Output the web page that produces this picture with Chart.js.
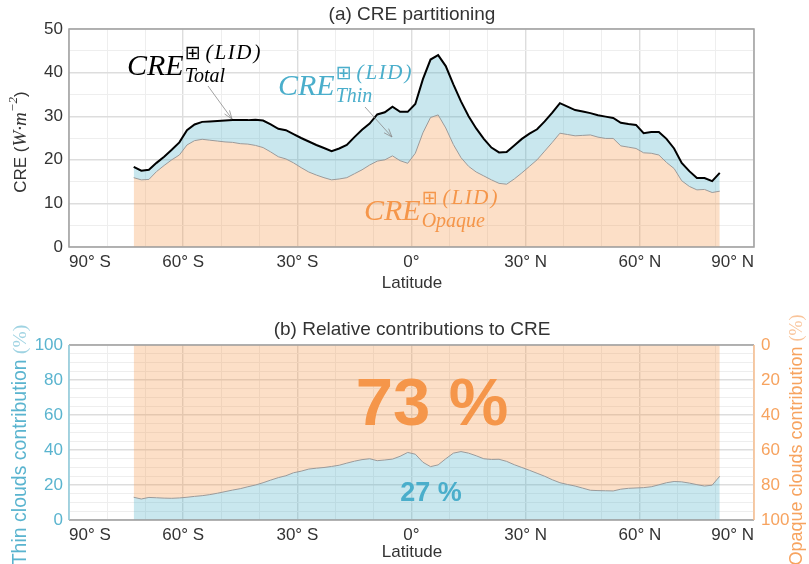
<!DOCTYPE html>
<html>
<head>
<meta charset="utf-8">
<script src="https://cdn.jsdelivr.net/npm/chart.js@4.4.1/dist/chart.umd.min.js"></script>
<style>
  html, body { margin: 0; padding: 0; background: #fff; }
  #wrap { position: relative; width: 809px; height: 564px; overflow: hidden; }
  canvas { position: absolute; left: 0; }
  #c1 { top: 0; }
  #c2 { top: 300px; }
</style>
</head>
<body>
<div id="wrap">
  <canvas id="c1" width="809" height="300"></canvas>
  <canvas id="c2" width="809" height="264"></canvas>
</div>
<script>
// ---- Data ----
const lats = [-73,-71,-69,-67,-65,-63,-61,-59,-57,-55,-53,-51,-49,-47,-45,-43,-41,-39,-37,-35,-33,-31,-29,-27,-25,-23,-21,-19,-17,-15,-13,-11,-9,-7,-5,-3,-1,1,3,5,7,9,11,13,15,17,19,21,23,25,27,29,31,33,35,37,39,41,43,45,47,49,51,53,55,57,59,61,63,65,67,69,71,73,75,77,79,81];
const totalCRE = [18.4,17.5,17.7,19.3,20.7,22.3,24.0,26.8,28.1,28.7,28.8,28.9,29.0,29.1,29.1,29.1,29.2,29.0,28.1,27.1,26.8,25.9,25.0,24.2,23.4,22.7,22.0,22.6,23.4,25.2,26.9,28.3,30.4,30.9,32.2,31.0,31.0,32.8,38.5,43.0,44.0,41.5,37.3,33.4,30.0,27.2,24.8,22.8,21.7,21.8,23.3,24.8,26.0,27.0,28.8,30.8,33.0,32.2,31.4,31.1,30.7,30.2,29.9,29.6,28.5,28.2,28.0,26.1,26.4,26.4,24.8,22.6,19.3,17.4,15.8,15.8,15.1,17.0];
const opaqueCRE = [15.9,15.4,15.5,17.3,18.7,20.0,21.1,23.4,24.4,24.7,24.5,24.3,24.1,24.0,23.7,23.6,23.3,22.8,21.8,20.7,20.2,19.3,18.2,17.2,16.5,15.9,15.4,15.6,15.9,16.8,17.7,18.8,19.7,20.0,20.9,19.8,19.2,21.5,26.2,29.7,30.3,27.3,23.5,20.5,18.5,17.2,16.3,15.4,14.6,14.4,15.6,17.0,18.5,20.0,22.0,24.0,26.1,25.8,25.5,25.6,25.7,25.2,24.9,24.9,23.2,22.9,22.6,21.6,21.5,21.1,19.4,18.0,15.2,13.9,13.1,13.2,12.5,12.8];
const thinPct = [13.0,12.0,12.9,12.7,12.5,12.4,12.6,13.0,13.5,13.9,14.5,15.3,16.2,17.1,17.9,19.0,20.0,21.3,22.8,24.2,25.3,27.0,27.9,29.1,29.6,30.0,30.6,31.3,32.5,33.6,34.5,35.0,33.9,34.3,34.8,36.4,38.6,37.6,33.0,30.5,31.5,35.0,38.2,39.1,38.2,36.7,35.0,34.6,34.7,33.5,31.6,30.0,28.4,26.7,25.0,23.0,21.3,20.3,19.4,18.2,17.0,16.8,16.7,16.6,17.6,18.1,18.3,18.5,19.0,20.1,21.3,22.0,21.8,21.1,20.2,19.4,19.9,25.0];
const latTickValues = [-90,-60,-30,0,30,60,90];
const latTickLabels = ['90° S','60° S','30° S','0°','30° N','60° N','90° N'];
const meanThin = '27 %';
const meanOpaque = '73 %';

// ---- Styles ----
const SANS = '"Liberation Sans", Arial, sans-serif';
const SERIF = '"Liberation Serif", "DejaVu Serif", serif';
const TXT = '#333333';
const CYAN = '#4aaecb';
const CYAN_T = '#5ab4cf';
const ORANGE = '#f5964a';
const ORANGE_T = '#f7a35f';
const FILL_CYAN = 'rgba(75,175,200,0.30)';
const FILL_ORANGE = 'rgba(246,150,70,0.30)';

function pts(arr) { return lats.map((x, i) => ({ x: x, y: arr[i] })); }
function latLabel(v) { const k = latTickValues.indexOf(v); return k >= 0 ? latTickLabels[k] : ''; }

function xScale() {
  return {
    type: 'linear', min: -90, max: 90,
    afterFit: s => { s.height = s.chart.height - s.chart.options.plotBottom; },
    afterBuildTicks: s => { s.ticks = []; for (let v = -90; v <= 90; v += 10) s.ticks.push({ value: v }); },
    ticks: { callback: v => latLabel(v), autoSkip: false, maxRotation: 0, align: 'inner', padding: 5, color: TXT, font: { family: SANS, size: 17 } },
    grid: { drawTicks: false, color: c => (c.tick && c.tick.value % 30 === 0) ? '#dddddd' : '#eeeeee', lineWidth: c => (c.tick && c.tick.value % 30 === 0) ? 1.4 : 1 },
    border: { display: false }
  };
}

function arrow(ctx, x1, y1, x2, y2) {
  ctx.save();
  ctx.strokeStyle = '#8a8a8a'; ctx.lineWidth = 0.8;
  ctx.beginPath(); ctx.moveTo(x1, y1); ctx.lineTo(x2, y2); ctx.stroke();
  const a = Math.atan2(y2 - y1, x2 - x1), L = 9, w = 0.35;
  ctx.beginPath();
  ctx.moveTo(x2 - L * Math.cos(a - w), y2 - L * Math.sin(a - w));
  ctx.lineTo(x2, y2);
  ctx.lineTo(x2 - L * Math.cos(a + w), y2 - L * Math.sin(a + w));
  ctx.stroke();
  ctx.restore();
}

function mathLabel(ctx, x, base, color, sub) {
  ctx.save();
  ctx.fillStyle = color; ctx.textBaseline = 'alphabetic'; ctx.textAlign = 'left';
  ctx.font = 'italic 30px ' + SERIF;
  ctx.fillText('CRE', x, base);
  const w = ctx.measureText('CRE').width;
  ctx.font = '19px "DejaVu Sans"';
  ctx.fillText('\u229E', x + w + 1, base - 16);
  const wb = ctx.measureText('\u229E').width;
  ctx.font = 'italic 21px ' + SERIF;
  let lx = x + w + wb + 6;
  ['(', 'L', 'I', 'D', ')'].forEach((ch, i) => { ctx.fillText(ch, lx, base - 16); lx += ctx.measureText(ch).width + (i === 0 || i === 3 ? 2 : 1.5); });
  ctx.font = 'italic 20px ' + SERIF;
  ctx.fillText(sub, x + w + 1, base + 7);
  ctx.restore();
}

const deco1 = {
  id: 'deco1',
  afterDraw(chart) {
    const ctx = chart.ctx, a = chart.chartArea;
    ctx.save();
    ctx.strokeStyle = '#a0a0a0'; ctx.lineWidth = 1.5;
    ctx.strokeRect(a.left, a.top, a.right - a.left, a.bottom - a.top);
    ctx.fillStyle = TXT; ctx.textAlign = 'center'; ctx.textBaseline = 'middle';
    ctx.font = '19px ' + SANS;
    ctx.fillText('(a) CRE partitioning', 412, 15);
    ctx.font = '17px ' + SANS;
    ctx.fillText('Latitude', 412, 283);
    ctx.translate(21, 142); ctx.rotate(-Math.PI / 2);
    const parts = [['CRE (', '17px ' + SANS, 0], ['W\u00B7m', 'italic 19px ' + SERIF, 0], ['\u22122', 'italic 13px ' + SERIF, -7], [')', '17px ' + SANS, 0]];
    let tw = 0; parts.forEach(p => { ctx.font = p[1]; tw += ctx.measureText(p[0]).width; });
    let xx = -tw / 2; ctx.textAlign = 'left';
    parts.forEach(p => { ctx.font = p[1]; ctx.fillText(p[0], xx, p[2]); xx += ctx.measureText(p[0]).width; });
    ctx.restore();
    mathLabel(ctx, 127, 75, '#000000', 'Total');
    mathLabel(ctx, 278, 95, CYAN, 'Thin');
    mathLabel(ctx, 364, 220, ORANGE, 'Opaque');
    arrow(ctx, 208, 86, 232, 119);
    arrow(ctx, 365, 107, 392, 137);
  }
};

new Chart(document.getElementById('c1'), {
  type: 'line',
  data: {
    datasets: [
      { data: pts(opaqueCRE), borderColor: '#9a9a9a', borderWidth: 1, backgroundColor: FILL_ORANGE, fill: 'origin', pointRadius: 0, tension: 0 },
      { data: pts(totalCRE), borderColor: '#000000', borderWidth: 2, backgroundColor: FILL_CYAN, fill: '-1', pointRadius: 0, tension: 0 }
    ]
  },
  options: {
    responsive: false, animation: false, plotBottom: 247,
    layout: { padding: { left: 0, top: 29, right: 55, bottom: 0 } },
    plugins: { legend: { display: false }, tooltip: { enabled: false } },
    scales: {
      x: xScale(),
      y: {
        min: 0, max: 50,
        afterFit: s => { s.width = 69; },
        afterBuildTicks: s => { s.ticks = []; for (let v = 0; v <= 50; v += 5) s.ticks.push({ value: v }); },
        ticks: { autoSkip: false, callback: v => (v % 10 === 0 ? String(v) : ''), padding: 6, color: TXT, font: { family: SANS, size: 17 } },
        grid: { drawTicks: false, color: c => (c.tick && c.tick.value % 10 === 0) ? '#dddddd' : '#eeeeee', lineWidth: c => (c.tick && c.tick.value % 10 === 0) ? 1.4 : 1 },
        border: { display: false }
      }
    }
  },
  plugins: [deco1]
});

const deco2 = {
  id: 'deco2',
  afterDraw(chart) {
    const ctx = chart.ctx, a = chart.chartArea;
    ctx.save();
    ctx.lineWidth = 1.5;
    ctx.strokeStyle = '#a0a0a0';
    ctx.beginPath(); ctx.moveTo(a.left, a.top); ctx.lineTo(a.right, a.top); ctx.moveTo(a.left, a.bottom); ctx.lineTo(a.right, a.bottom); ctx.stroke();
    ctx.strokeStyle = '#8ccbdc';
    ctx.beginPath(); ctx.moveTo(a.left, a.top); ctx.lineTo(a.left, a.bottom); ctx.stroke();
    ctx.strokeStyle = '#f8be8e';
    ctx.beginPath(); ctx.moveTo(a.right, a.top); ctx.lineTo(a.right, a.bottom); ctx.stroke();
    ctx.textAlign = 'center'; ctx.textBaseline = 'middle';
    ctx.fillStyle = TXT; ctx.font = '19px ' + SANS;
    ctx.fillText('(b) Relative contributions to CRE', 412, 30);
    ctx.font = '17px ' + SANS;
    ctx.fillText('Latitude', 412, 252);
    ctx.textBaseline = 'alphabetic';
    ctx.fillStyle = ORANGE; ctx.font = 'bold 67px ' + SANS;
    ctx.fillText(meanOpaque, 432, 125);
    ctx.fillStyle = CYAN; ctx.font = 'bold 27px ' + SANS;
    ctx.fillText(meanThin, 431, 201);
    ctx.restore();
    function vtitle(cx, cy, main, color, color2, size) {
      ctx.save();
      ctx.translate(cx, cy); ctx.rotate(-Math.PI / 2);
      ctx.textBaseline = 'middle'; ctx.textAlign = 'left';
      ctx.font = size + 'px ' + SANS; const w1 = ctx.measureText(main + ' ').width;
      ctx.font = size + 'px ' + SERIF; const w2 = ctx.measureText('(%)').width;
      let x0 = -(w1 + w2) / 2;
      ctx.fillStyle = color; ctx.font = size + 'px ' + SANS; ctx.fillText(main + ' ', x0, 0);
      ctx.fillStyle = color2; ctx.font = size + 'px ' + SERIF; ctx.fillText('(%)', x0 + w1, 0);
      ctx.restore();
    }
    vtitle(21, 145, 'Thin clouds contribution', CYAN_T, '#9fd3e2', 19.5);
    vtitle(797, 140, 'Opaque clouds contribution', ORANGE_T, '#f9c49a', 18);
  }
};

new Chart(document.getElementById('c2'), {
  type: 'line',
  data: {
    datasets: [
      { data: pts(thinPct), borderColor: '#9a9a9a', borderWidth: 1, backgroundColor: FILL_CYAN, fill: 'origin', pointRadius: 0, tension: 0 },
      { data: pts(thinPct), borderColor: 'rgba(0,0,0,0)', borderWidth: 0, backgroundColor: FILL_ORANGE, fill: 'end', pointRadius: 0, tension: 0 }
    ]
  },
  options: {
    responsive: false, animation: false, plotBottom: 220,
    layout: { padding: { left: 0, top: 45, right: 0, bottom: 0 } },
    plugins: { legend: { display: false }, tooltip: { enabled: false } },
    scales: {
      x: xScale(),
      y: {
        position: 'left', min: 0, max: 100,
        afterFit: s => { s.width = 69; },
        afterBuildTicks: s => { s.ticks = []; for (let v = 0; v <= 100; v += 5) s.ticks.push({ value: v }); },
        ticks: { autoSkip: false, callback: v => (v % 20 === 0 ? String(v) : ''), padding: 6, color: CYAN_T, font: { family: SANS, size: 17 } },
        grid: { drawTicks: false, color: c => (c.tick && c.tick.value % 20 === 0) ? '#dddddd' : '#eeeeee', lineWidth: c => (c.tick && c.tick.value % 20 === 0) ? 1.4 : 1 },
        border: { display: false }
      },
      y2: {
        position: 'right', min: 0, max: 100, reverse: true,
        afterFit: s => { s.width = 55; },
        afterBuildTicks: s => { s.ticks = []; for (let v = 0; v <= 100; v += 20) s.ticks.push({ value: v }); },
        ticks: { autoSkip: false, padding: 7, color: ORANGE_T, font: { family: SANS, size: 17 } },
        grid: { display: false, drawTicks: false },
        border: { display: false }
      }
    }
  },
  plugins: [deco2]
});
</script>
</body>
</html>
